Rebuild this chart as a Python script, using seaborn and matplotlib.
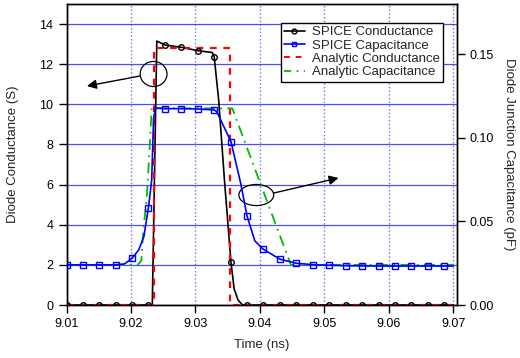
import numpy as np
import pandas as pd
import matplotlib
matplotlib.use("Agg")
import matplotlib.pyplot as plt
from matplotlib.lines import Line2D
from matplotlib.patches import Ellipse
import seaborn as sns

# ---------------- data ----------------
# SPICE conductance (S): line samples
spice_g_t = [9.0100, 9.0233, 9.0240, 9.0253, 9.0278, 9.0304, 9.0326, 9.0329,
             9.0336, 9.0345, 9.0355, 9.0360, 9.0366, 9.0373, 9.0700]
spice_g_v = [0.0, 0.0, 13.15, 12.95, 12.84, 12.67, 12.58, 12.38,
             10.2, 6.2, 2.15, 0.8, 0.25, 0.0, 0.0]

# marker sample times (shared by both SPICE series)
marker_t = [9.0100, 9.0125, 9.0151, 9.0176, 9.0202, 9.0227, 9.0253, 9.0278,
            9.0304, 9.0329, 9.0355, 9.0380, 9.0405, 9.0431, 9.0456, 9.0482,
            9.0507, 9.0533, 9.0558, 9.0584, 9.0609, 9.0634, 9.0660, 9.0685]
spice_g_marker = [0, 0, 0, 0, 0, 0, 12.95, 12.84, 12.67, 12.38, 2.15, 0,
                  0, 0, 0, 0, 0, 0, 0, 0, 0, 0, 0, 0]

# SPICE capacitance (pF)
spice_c_t = [9.0100, 9.0176, 9.0190, 9.0202, 9.0212, 9.0220, 9.0227, 9.0232,
             9.0235, 9.0238, 9.0253, 9.0278, 9.0304, 9.0329, 9.0333, 9.0355,
             9.0370, 9.0380, 9.0392, 9.0405, 9.0431, 9.0456, 9.0482, 9.0507,
             9.0533, 9.0558, 9.0584, 9.0700]
spice_c_v = [0.0240, 0.0240, 0.0246, 0.0281, 0.0330, 0.0410, 0.0582, 0.0744,
             0.1116, 0.1178, 0.1174, 0.1174, 0.1172, 0.1166, 0.1156, 0.0977,
             0.0730, 0.0532, 0.0384, 0.0334, 0.0274, 0.0250, 0.0241, 0.0238,
             0.0235, 0.0234, 0.0233, 0.0233]
spice_c_marker = [0.0240, 0.0240, 0.0240, 0.0240, 0.0281, 0.0582, 0.1174, 0.1174,
                  0.1172, 0.1166, 0.0977, 0.0532, 0.0334, 0.0274, 0.0250, 0.0241,
                  0.0238, 0.0235, 0.0234, 0.0234, 0.0233, 0.0233, 0.0233, 0.0233]

# Analytic conductance (S)
ana_g_t = [9.0100, 9.0235, 9.0235, 9.0354, 9.0354, 9.0700]
ana_g_v = [0.0, 0.0, 12.8, 12.8, 0.0, 0.0]

# Analytic capacitance (pF)
ana_c_t = [9.0100, 9.0210, 9.0216, 9.0219, 9.0224, 9.0226, 9.0230, 9.0232,
           9.0357, 9.0448, 9.0700]
ana_c_v = [0.0240, 0.0240, 0.0264, 0.0444, 0.0624, 0.0744, 0.1020, 0.1176,
           0.1176, 0.0240, 0.0240]

x_ticks = [9.01, 9.02, 9.03, 9.04, 9.05, 9.06, 9.07]
x_ticklabels = ["9.01", "9.02", "9.03", "9.04", "9.05", "9.06", "9.07"]
yl_ticks = [0, 2, 4, 6, 8, 10, 12, 14]
yr_ticks = [0.00, 0.05, 0.10, 0.15]
yr_ticklabels = ["0.00", "0.05", "0.10", "0.15"]

labels = ["SPICE Conductance", "SPICE Capacitance",
          "Analytic Conductance", "Analytic Capacitance"]

# ---------------- style ----------------
sns.set_style("ticks")
plt.rcParams["font.family"] = ["Liberation Sans", "DejaVu Sans"]
plt.rcParams["font.size"] = 9

fig = plt.figure(figsize=(5.2, 3.58), dpi=100)
ax = fig.add_axes([0.128, 0.148, 0.75, 0.841])
ax2 = ax.twinx()

BLUE = "#0000ff"
RED = "#ff0000"
GREEN = "#00bb00"

# main axis: conductance
sns.lineplot(x=spice_g_t, y=spice_g_v, ax=ax, estimator=None, sort=False,
             color="black", lw=1.2, legend=False, zorder=3)
sns.lineplot(x=marker_t, y=spice_g_marker, ax=ax, estimator=None, sort=False,
             color="black", ls="none", marker="o", ms=4, mfc="none", mec="black",
             mew=1.0, legend=False, zorder=5)
sns.lineplot(x=ana_g_t, y=ana_g_v, ax=ax, estimator=None, sort=False,
             color=RED, lw=1.6, legend=False, zorder=4, dashes=(3, 3))

# twin axis: capacitance
sns.lineplot(x=ana_c_t, y=ana_c_v, ax=ax2, estimator=None, sort=False,
             color=GREEN, lw=1.3, legend=False, zorder=2, dashes=(6, 3, 1, 3))
sns.lineplot(x=spice_c_t, y=spice_c_v, ax=ax2, estimator=None, sort=False,
             color=BLUE, lw=1.2, legend=False, zorder=3)
sns.lineplot(x=marker_t, y=spice_c_marker, ax=ax2, estimator=None, sort=False,
             color=BLUE, ls="none", marker="s", ms=4.2, mfc="none", mec=BLUE,
             mew=1.0, legend=False, zorder=4)

# limits & ticks
ax.set_xlim(9.01, 9.0705)
ax.set_ylim(0, 15)
ax2.set_ylim(0, 0.18)
ax.set_xticks(x_ticks)
ax.set_xticklabels(x_ticklabels)
ax.set_yticks(yl_ticks)
ax2.set_yticks(yr_ticks)
ax2.set_yticklabels(yr_ticklabels)

for a in (ax, ax2):
    a.tick_params(direction="out", length=6, width=1, labelsize=9, colors="black")
    for s in a.spines.values():
        s.set_visible(True)
        s.set_color("black")
        s.set_linewidth(1.0)
ax.tick_params(top=False, right=False)
ax2.tick_params(left=False, top=False, bottom=False)

# grid
ax.xaxis.grid(True, ls=":", color=BLUE, lw=1.0, alpha=0.55)
ax.yaxis.grid(True, ls="-", color=BLUE, lw=0.9, alpha=0.7)
ax.set_axisbelow(True)

ax.set_xlabel("Time (ns)", fontsize=9.5, labelpad=6)
ax.set_ylabel("Diode Conductance (S)", fontsize=9.5, labelpad=15)
ax2.set_ylabel("Diode Junction Capacitance (pF)", fontsize=9.5, rotation=270,
               labelpad=15)

# annotations: ellipses and arrows
e1 = Ellipse((9.0235, 11.51), 0.00416, 1.25, fill=False, ec="black", lw=0.9, zorder=6)
e2 = Ellipse((9.03943, 5.48), 0.0054, 1.05, fill=False, ec="black", lw=0.9, zorder=6)
ax.add_patch(e1)
ax.add_patch(e2)
ax.annotate("", xy=(9.01316, 10.91), xytext=(9.0214, 11.41),
            arrowprops=dict(arrowstyle="-|>", color="black", lw=1.0,
                            mutation_scale=14, shrinkA=0, shrinkB=0), zorder=6)
ax.annotate("", xy=(9.05219, 6.33), xytext=(9.04216, 5.58),
            arrowprops=dict(arrowstyle="-|>", color="black", lw=1.0,
                            mutation_scale=14, shrinkA=0, shrinkB=0), zorder=6)

# legend
handles = [
    Line2D([], [], color="black", lw=1.2, marker="o", ms=3.5, mfc="none", mew=1.0),
    Line2D([], [], color=BLUE, lw=1.2, marker="s", ms=3.5, mfc="none", mew=1.0),
    Line2D([], [], color=RED, lw=1.4, dashes=(3, 3)),
    Line2D([], [], color=GREEN, lw=1.3, dashes=(4, 3, 1, 3)),
]
leg = ax2.legend(handles, labels, loc="upper right", bbox_to_anchor=(0.965, 0.937),
                 borderaxespad=0, fontsize=9.5, frameon=True, fancybox=False,
                 edgecolor="black", framealpha=1, handlelength=1.6,
                 handletextpad=0.5, labelspacing=0.08, borderpad=0.25)
leg.get_frame().set_linewidth(1.0)

fig.savefig("out.png", dpi=100)
